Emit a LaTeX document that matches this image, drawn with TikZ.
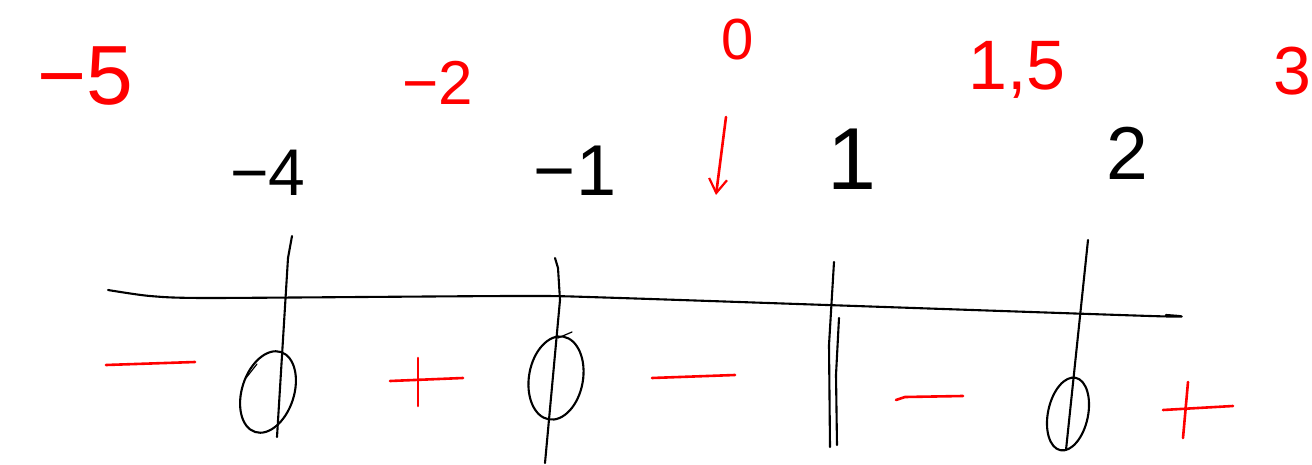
\documentclass[tikz,border=0pt]{standalone}
\usepackage{fontspec}
\setmainfont{Liberation Sans}
\usetikzlibrary{arrows.meta}
\definecolor{pen}{RGB}{255,0,0}
\tikzset{
  ink/.style={line width=2.1pt, black, line cap=round, line join=round},
  redink/.style={line width=2.6pt, pen, line cap=round, line join=round},
  rednum/.style={pen, anchor=base, inner sep=0pt},
  blacknum/.style={black, anchor=base, inner sep=0pt},
}
\newcommand{\fs}[1]{\fontsize{#1}{#1}\selectfont}
\begin{document}
\begin{tikzpicture}[x=1pt,y=-1pt]
\useasboundingbox (0,0) rectangle (1312,465);
% red top labels
\node[rednum, font=\fs{84}] (lm5) at (85,105) {−5};
\node[rednum, font=\fs{62}] (lm2) at (438,105) {−2};
\node[rednum, font=\fs{58}] (l0) at (738,60) {0};
\node[rednum, font=\fs{70}] (l15) at (1017,90) {1,5};
\node[rednum, font=\fs{68}] (l3) at (1292,95) {3};
% black roots
\node[blacknum, font=\fs{66}] (rm4) at (268,196) {−4};
\node[blacknum, font=\fs{72}] (rm1) at (575,196) {−1};
\node[blacknum, font=\fs{88}] (r1) at (852,190) {1};
\node[blacknum, font=\fs{75}] (r2) at (1127,180) {2};
% arrow from 0
\coordinate (as) at (726,117);
\coordinate (ae) at (716,195);
\draw[redink, -{Straight Barb[length=14pt,width=18pt,line width=2.2pt]}] (as) -- (ae);
% axis
\draw[ink] plot[smooth, tension=0.4] coordinates {(108,290) (150,296) (210,298) (517,296) (620,298) (1150,316) (1166,315)};
% vertical at -4
\draw[ink] (292,236) -- (288,258) -- (277,437);
\draw[ink, rotate around={-18:(268,392)}] (268,392) ellipse [x radius=26pt, y radius=42pt];
\draw[ink, line width=1.2pt] (246,378) -- (257,364);
% vertical at -1
\draw[ink] (555,258) -- (558,268) -- (560,300) -- (545,463);
\draw[ink, rotate around={-10:(556,378)}] (556,378) ellipse [x radius=27pt, y radius=42pt];
\draw[ink, line width=1.2pt] (558,338) -- (572,332);
% vertical at 1 (double)
\draw[ink] (834,262) -- (829,345) -- (830,447);
\draw[ink] (839,318) -- (836,375) -- (837,445);
% vertical at 2
\draw[ink] (1088,240) -- (1066,450);
\draw[ink, rotate around={-12:(1068,414)}] (1068,414) ellipse [x radius=20pt, y radius=37pt];
% signs
\draw[redink] (106,365) -- (195,362);
\draw[redink] (390,381) -- (463,378);
\draw[redink] (418,358) -- (418,406);
\draw[redink] (652,378) -- (735,375);
\draw[redink] (896,400) -- (905,397) -- (963,396);
\draw[redink] (1163,410) -- (1233,406);
\draw[redink] (1188,382) -- (1183,438);
\end{tikzpicture}
\end{document}
